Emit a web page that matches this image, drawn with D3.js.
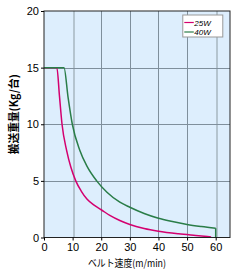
<!DOCTYPE html>
<meta charset="utf-8">
<style>
body { margin: 0; background: white; }
.tick text { font-family: "Liberation Sans Narrow", "Arial Narrow", sans-serif; font-size: 11px; fill: #000; }
.grid line { stroke: #7f8f9c; stroke-width: 1px; shape-rendering: crispEdges; }
.grid line.light { stroke: #b4c4cf; stroke-width: 2px; }
.line { fill: none; stroke-width: 1.5px; }
</style>
<svg width="240" height="269"></svg>
<script src="https://d3js.org/d3.v7.min.js"></script>
<script>
// belt speed (m/min) vs load (kg/unit)
var speed25 = [0, 4.5, 5.4, 6.3, 7.9, 9.4, 11.1, 13, 15, 17.5, 20, 23, 26.5, 30, 35, 40, 47, 53, 58.4];
var load25  = [15, 15, 12.5, 10, 7.7, 6.2, 5.0, 4.1, 3.4, 2.85, 2.45, 1.95, 1.5, 1.15, 0.8, 0.56, 0.33, 0.18, 0.05];
var speed40 = [0, 7, 8.4, 9.9, 12.5, 15, 18.4, 22, 26.5, 30, 35, 40, 44, 50, 55, 60, 60];
var load40  = [15, 15, 12.4, 10, 7.7, 6.3, 5.0, 4.0, 3.12, 2.67, 2.12, 1.7, 1.45, 1.15, 0.97, 0.82, 0];
var seriesNames = ["25W", "40W"];
var seriesColors = ["#d4006f", "#2a7d48"];
var xTicks = [0, 10, 20, 30, 40, 50, 60];
var yTicks = [0, 5, 10, 15, 20];

var svg = d3.select("svg"),
    margin = {top: 11, right: 10, bottom: 31.5, left: 44},
    width = 240 - margin.left - margin.right,
    height = 269 - margin.top - margin.bottom;

var x = d3.scaleLinear().domain([0, 65]).range([0, width]);
var y = d3.scaleLinear().domain([0, 20]).range([height, 0]);

var g = svg.append("g")
    .attr("transform", "translate(" + margin.left + "," + margin.top + ")");

g.append("rect")
    .attr("width", width)
    .attr("height", height)
    .attr("fill", "#ddeefd");

var grid = g.append("g").attr("class", "grid");
grid.selectAll(".vx")
    .data(xTicks.slice(1))
  .enter().append("line")
    .attr("class", function(d) { return (d == 10 || d == 60) ? "light" : null; })
    .attr("x1", function(d) { return Math.round(x(d)) + 0.5; })
    .attr("x2", function(d) { return Math.round(x(d)) + 0.5; })
    .attr("y1", 0)
    .attr("y2", height);
grid.selectAll(".hy")
    .data([5, 10, 15])
  .enter().append("line")
    .attr("x1", 0)
    .attr("x2", width)
    .attr("y1", function(d) { return Math.round(y(d)) + 0.5; })
    .attr("y2", function(d) { return Math.round(y(d)) + 0.5; });

var line = d3.line()
    .x(function(d) { return x(d[0]); })
    .y(function(d) { return y(d[1]); })
    .curve(d3.curveMonotoneX);

var sets = [d3.zip(speed25, load25), d3.zip(speed40, load40)];

g.append("path")
    .datum(sets[0])
    .attr("class", "line")
    .attr("stroke", seriesColors[0])
    .attr("d", line);

// 40W ends with a vertical drop at 60, draw that part straight
g.append("path")
    .datum(sets[1].slice(0, -1))
    .attr("class", "line")
    .attr("stroke", seriesColors[1])
    .attr("d", line);
g.append("path")
    .datum(sets[1].slice(-2))
    .attr("class", "line")
    .attr("stroke", seriesColors[1])
    .attr("d", d3.line().x(function(d) { return x(d[0]); }).y(function(d) { return y(d[1]); }));

// frame
g.append("rect")
    .attr("width", width)
    .attr("height", height)
    .attr("fill", "none")
    .attr("stroke", "#222");

g.append("g")
    .attr("transform", "translate(0," + height + ")")
    .call(d3.axisBottom(x).tickValues(xTicks).tickSize(3).tickPadding(3))
    .call(function(a) { a.select(".domain").remove(); });

g.append("g")
    .call(d3.axisLeft(y).tickValues(yTicks).tickSize(3).tickPadding(2))
    .call(function(a) { a.select(".domain").remove(); });

g.append("text")
    .attr("x", width / 2 - 10)
    .attr("y", height + 29)
    .attr("text-anchor", "middle")
    .attr("textLength", 78)
    .attr("lengthAdjust", "spacingAndGlyphs")
    .style("font-family", "'Noto Sans CJK JP', sans-serif")
    .style("font-size", "10px")
    .text("ベルト速度(m/min)");

g.append("text")
    .attr("transform", "translate(-26," + (height / 2 - 10) + ") rotate(-90)")
    .attr("text-anchor", "middle")
    .attr("textLength", 80)
    .attr("lengthAdjust", "spacingAndGlyphs")
    .style("font-family", "'Noto Sans CJK JP', sans-serif")
    .style("font-size", "11px")
    .style("font-weight", "bold")
    .text("搬送重量(Kg/台)");

// legend
var lg = g.append("g").attr("transform", "translate(" + (x(48.5)) + ",4)");
lg.append("rect")
    .attr("width", 40)
    .attr("height", 22)
    .attr("fill", "white")
    .attr("stroke", "#999");
seriesNames.forEach(function(name, i) {
    lg.append("line")
        .attr("x1", 1.5).attr("x2", 11)
        .attr("y1", 7.5 + i * 9.5).attr("y2", 7.5 + i * 9.5)
        .attr("stroke", seriesColors[i])
        .attr("stroke-width", 1.2);
    lg.append("text")
        .attr("x", 11.5)
        .attr("y", 10.5 + i * 9.5)
        .style("font-family", "'Liberation Sans Narrow', 'Arial Narrow', sans-serif")
        .style("font-size", "8px")
        .style("font-style", "italic")
        .text(name);
});
</script>
